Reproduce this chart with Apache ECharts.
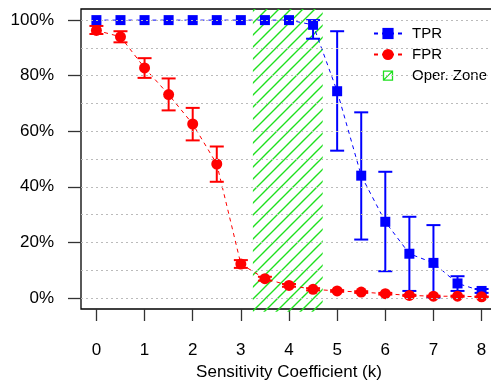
<!DOCTYPE html>
<html>
<head>
<meta charset="utf-8">
<script src="https://cdn.jsdelivr.net/npm/echarts@6/dist/echarts.min.js"></script>
<style>
  html, body { margin: 0; padding: 0; background: #fff; }
  #chart { width: 491px; height: 385px; }
</style>
</head>
<body>
<div id="chart"></div>
<script>
/** sensitivity coefficient values */
const kValues = [0, 0.5, 1, 1.5, 2, 2.5, 3, 3.5, 4, 4.5, 5, 5.5, 6, 6.5, 7, 7.5, 8];

/** true positive rate (%) with error bar limits */
const tpr = [100, 100, 100, 100, 100, 100, 100, 100, 100, 98.3, 74.4, 44, 27.4, 15.9, 12.6, 5.2, 2.5];
const tprLow = [100, 100, 100, 100, 100, 100, 100, 100, 100, 93.3, 53, 21, 9.6, 2.5, 0.1, 2.5, 1.8];
const tprHigh = [100, 100, 100, 100, 100, 100, 100, 100, 100, 100, 96, 66.8, 45.4, 29.2, 26.2, 7.8, 3.2];

/** false positive rate (%) with error bar limits */
const fpr = [96.3, 94, 82.8, 73.2, 62.6, 48.2, 12.2, 6.9, 4.5, 3.1, 2.5, 2.1, 1.5, 0.9, 0.6, 0.6, 0.4];
const fprLow = [95, 92, 79.2, 67.5, 56.7, 41.8, 10.8, 6.2, 4, 2.7, 2.2, 1.8, 1.2, 0.7, 0.4, 0.4, 0.3];
const fprHigh = [97.9, 96, 86.3, 79, 68.4, 54.5, 13.6, 7.6, 5, 3.5, 2.8, 2.4, 1.8, 1.1, 0.8, 0.8, 0.5];

/** operational zone range of k */
const operZone = [3.25, 4.7];

/** axis ticks */
const xTicks = [0, 1, 2, 3, 4, 5, 6, 7, 8];
const yTicks = [0, 20, 40, 60, 80, 100];
const gridLevels = [0, 10, 20, 30, 40, 50, 60, 70, 80, 90, 100];

const font = "'Liberation Sans', Arial, sans-serif";
const green = "#1ee01e";

/** diagonal hatch pattern */
const hatch = document.createElement("canvas");
hatch.width = 12;
hatch.height = 12;
{
  const ctx = hatch.getContext("2d");
  ctx.strokeStyle = green;
  ctx.lineWidth = 1.4;
  ctx.beginPath();
  ctx.moveTo(-1, 13);
  ctx.lineTo(13, -1);
  ctx.moveTo(-1, 1);
  ctx.lineTo(1, -1);
  ctx.moveTo(11, 13);
  ctx.lineTo(13, 11);
  ctx.stroke();
}

/** error bars with caps */
const errorBars = (color) => (params, api) => {
  const x = api.value(0);
  const lo = api.coord([x, api.value(1)]);
  const hi = api.coord([x, api.value(2)]);
  if (Math.abs(hi[1] - lo[1]) < 0.5) return null;
  const hw = 7;
  const style = { stroke: color, lineWidth: 2 };
  return {
    type: "group",
    children: [
      { type: "line", shape: { x1: lo[0], y1: lo[1], x2: hi[0], y2: hi[1] }, style },
      { type: "line", shape: { x1: lo[0] - hw, y1: lo[1], x2: lo[0] + hw, y2: lo[1] }, style },
      { type: "line", shape: { x1: hi[0] - hw, y1: hi[1], x2: hi[0] + hw, y2: hi[1] }, style },
    ],
  };
};

const chart = echarts.init(document.getElementById("chart"), null, { renderer: "canvas" });

const option = {
  animation: false,
  backgroundColor: "#fff",
  textStyle: { fontFamily: font },
  grid: {
    left: 81,
    top: 9,
    right: -6,
    bottom: 76,
    outerBoundsMode: "none",
    containLabel: false,
    show: true,
    borderColor: "#000",
    borderWidth: 1.3,
    backgroundColor: "transparent",
  },
  legend: {
    orient: "vertical",
    left: 368,
    top: 21,
    itemWidth: 28,
    itemHeight: 14,
    itemGap: 6,
    textStyle: { fontSize: 15, color: "#000", fontFamily: font, padding: [0, 0, 0, 5] },
    data: [
      { name: "TPR" },
      { name: "FPR" },
      {
        name: "Oper. Zone",
        icon: "path://M0,0M28,14M9.5,2.5h9v9h-9zM9.5,11.5L18.5,2.5",
        itemStyle: { color: "transparent", borderColor: green, borderWidth: 1.3 },
      },
    ],
  },
  xAxis: {
    type: "value",
    min: -0.32,
    max: 8.32,
    axisLine: { show: false, onZero: false },
    splitLine: { show: false },
    axisTick: {
      show: true,
      inside: false,
      length: 12,
      customValues: xTicks,
      lineStyle: { color: "#333", width: 1.3 },
    },
    axisLabel: {
      customValues: xTicks,
      margin: 33,
      fontSize: 17,
      color: "#000",
      fontFamily: font,
    },
    name: "Sensitivity Coefficient (k)",
    nameLocation: "middle",
    nameGap: 55,
    nameTextStyle: { fontSize: 17, color: "#000", fontFamily: font },
  },
  yAxis: {
    type: "value",
    min: -4,
    max: 104,
    axisLine: { show: false, onZero: false },
    splitLine: { show: false },
    axisTick: {
      show: true,
      inside: false,
      length: 13,
      customValues: yTicks,
      lineStyle: { color: "#333", width: 1.3 },
    },
    axisLabel: {
      customValues: yTicks,
      margin: 27,
      fontSize: 17,
      color: "#000",
      fontFamily: font,
      formatter: (v) => v + "%",
    },
  },
  series: [
    {
      name: "grid",
      type: "line",
      data: [],
      silent: true,
      z: 1,
      markLine: {
        silent: true,
        symbol: "none",
        label: { show: false },
        lineStyle: { color: "#bbb", type: [2, 3], width: 1 },
        data: gridLevels.map((v) => ({ yAxis: v })),
      },
    },
    {
      name: "Oper. Zone",
      type: "custom",
      silent: true,
      z: 2,
      itemStyle: { color: green },
      data: [operZone],
      renderItem: (params, api) => {
        const p0 = api.coord([api.value(0), 104]);
        const p1 = api.coord([api.value(1), -5]);
        return {
          type: "rect",
          shape: { x: p0[0], y: p0[1], width: p1[0] - p0[0], height: p1[1] - p0[1] },
          style: { fill: { image: hatch, repeat: "repeat" } },
        };
      },
    },
    {
      name: "tprErr",
      type: "custom",
      silent: true,
      z: 3,
      data: kValues.map((k, i) => [k, tprLow[i], tprHigh[i]]),
      renderItem: errorBars("#0000ff"),
    },
    {
      name: "fprErr",
      type: "custom",
      silent: true,
      z: 3,
      data: kValues.map((k, i) => [k, fprLow[i], fprHigh[i]]),
      renderItem: errorBars("#ff0000"),
    },
    {
      name: "TPR",
      type: "line",
      z: 4,
      data: kValues.map((k, i) => [k, tpr[i]]),
      symbol: "rect",
      symbolSize: 10,
      color: "#0000ff",
      itemStyle: { color: "#0000ff" },
      lineStyle: { color: "#0000ff", width: 1, type: [4, 4] },
    },
    {
      name: "FPR",
      type: "line",
      z: 4,
      data: kValues.map((k, i) => [k, fpr[i]]),
      symbol: "circle",
      symbolSize: 11,
      color: "#ff0000",
      itemStyle: { color: "#ff0000" },
      lineStyle: { color: "#ff0000", width: 1, type: [4, 4] },
    },
  ],
};

chart.setOption(option);
</script>
</body>
</html>
